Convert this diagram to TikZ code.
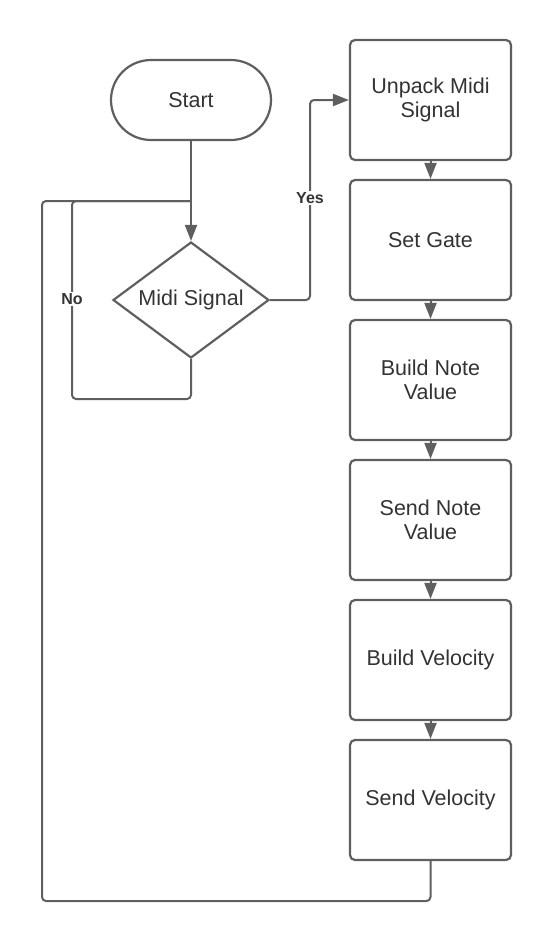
\documentclass[tikz,border=0pt]{standalone}
\usepackage{fontspec}
\setmainfont{Liberation Sans}
\usetikzlibrary{shapes.geometric,arrows.meta}
\definecolor{ln}{HTML}{5F5F5F}
\definecolor{tx}{HTML}{333333}
\tikzset{
  base/.style={draw=ln, line width=2.2pt, text=tx, font=\fontsize{21.5}{24.5}\selectfont, align=center},
  term/.style={base, rectangle, rounded corners=40pt, minimum width=160pt, minimum height=80pt},
  decide/.style={base, diamond, aspect=1.345, minimum width=156pt, minimum height=116pt, inner sep=0pt},
  proc/.style={base, rectangle, rounded corners=5pt, minimum width=161pt, minimum height=120pt},
  conn/.style={draw=ln, line width=2pt, rounded corners=4pt},
  arr/.style={conn, -{Triangle[length=16pt,width=12pt]}},
  lab/.style={fill=white, text=tx, font=\fontsize{16}{19}\selectfont\bfseries, inner sep=1pt}
}
\begin{document}
\begin{tikzpicture}[x=1pt,y=-1pt]
\useasboundingbox (0,0) rectangle (551,943);
\node[term] (start) at (191,100) {Start};
\node[decide] (dec) at (191,300) {Midi Signal};
\node[proc] (b1) at (430.5,100) {Unpack Midi\\Signal};
\node[proc] (b2) at (430.5,240) {Set Gate};
\node[proc] (b3) at (430.5,380) {Build Note\\Value};
\node[proc] (b4) at (430.5,520) {Send Note\\Value};
\node[proc] (b5) at (430.5,660) {Build Velocity};
\node[proc] (b6) at (430.5,800) {Send Velocity};
\coordinate (join) at (191,201);
\draw[arr] (start.south) -- (dec.north);
\draw[arr] (b1) -- (b2);
\draw[arr] (b2) -- (b3);
\draw[arr] (b3) -- (b4);
\draw[arr] (b4) -- (b5);
\draw[arr] (b5) -- (b6);
\draw[arr] (dec.east) -- (310,300) |- (b1.west);
\node[lab] (yes) at (310,198) {Yes};
\draw[conn] (dec.south) -- (191,399) -| (72,201) -- (join);
\node[lab] (no) at (72,299) {No};
\draw[conn] (b6.south) -- (430.5,901) -| (42,201) -- (join);
\end{tikzpicture}
\end{document}
